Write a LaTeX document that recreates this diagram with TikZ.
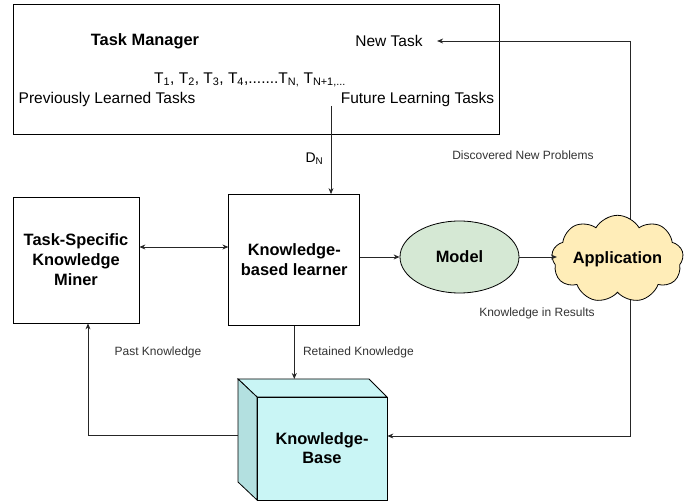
\documentclass[tikz,border=0pt]{standalone}
\usepackage{fontspec}
\setmainfont{Liberation Sans}
\usetikzlibrary{calc}
\usetikzlibrary{positioning}
\usetikzlibrary{shapes.symbols}
\usetikzlibrary{shapes.geometric}
\usetikzlibrary{arrows.meta}

\definecolor{modelGreen}{HTML}{D5E8D4}
\definecolor{appYellow}{HTML}{FFEDB8}
\definecolor{kbFront}{HTML}{C9F5F5}
\definecolor{kbSide}{HTML}{B3E0E0}

\begin{document}
\begin{tikzpicture}[x=1pt, y=-1pt, >={Stealth[length=6pt, width=5pt]},
    line/.style={draw=black!85, line width=0.8pt},
    titleText/.style={font=\fontsize{16.4}{20}\selectfont\bfseries, align=center},
    bodyText/.style={font=\fontsize{15.5}{18}\selectfont},
    smallText/.style={font=\fontsize{12}{14}\selectfont, text=black!80},
    blockBox/.style={rectangle, draw=black, line width=0.8pt, inner sep=0pt}]
    \useasboundingbox (0,0) rectangle (694,502);

    % task manager
    \node [blockBox, minimum width=486pt, minimum height=130pt] (taskManager) at (256,69) {};
    \node [titleText] (tmTitle) at (145,41) {Task Manager};
    \node [bodyText] (newTask) at (389,41) {New Task};
    \node [bodyText] (taskSeq) at (250,80) {T\textsubscript{1}, T\textsubscript{2}, T\textsubscript{3}, T\textsubscript{4},.......T\textsubscript{N,} T\textsubscript{N+1,...}};
    \node [bodyText] (prevTasks) at (107,99) {Previously Learned Tasks};
    \node [bodyText] (futureTasks) at (417.5,99) {Future Learning Tasks};
    \coordinate (dnStart) at (331,106);

    % learners
    \node [blockBox, titleText, minimum width=126pt, minimum height=126pt] (miner) at (76,260) {Task-Specific\\Knowledge\\Miner};
    \node [blockBox, titleText, minimum width=131pt, minimum height=131pt, right=89pt of miner] (learner) {Knowledge-\\based learner};
    \node [ellipse, draw=black, line width=0.8pt, fill=modelGreen, titleText, minimum width=119pt, minimum height=72pt, inner sep=0pt] (model) at (459.5,257) {Model};

    % knowledge base (cube)
    \coordinate (kbBack) at (238,379);
    \fill [kbFront, line, draw=black] (kbBack) -- (369,379) -- (387,397) -- (257,397) -- cycle;
    \fill [kbSide, line, draw=black] (kbBack) -- (257,397) -- (257,500) -- (238,482) -- cycle;
    \node [blockBox, fill=kbFront, titleText, font=\fontsize{16.4}{19}\selectfont\bfseries, minimum width=130pt, minimum height=103pt] (kbase) at (322,448.5) {Knowledge-\\Base};
    \coordinate (kbPast) at (238,435);

    % feedback line (behind the cloud)
    \coordinate (fbTop) at (630,41);
    \coordinate (fbBottom) at (630,436);
    \draw [line, ->] (fbTop) -- ([xshift=11pt]newTask.east);
    \draw [line, ->] (fbTop) -- (fbBottom) -- (kbase.east |- fbBottom);
    \node [cloud, cloud puffs=9, cloud puff arc=120, aspect=1.9, draw=black, line width=0.8pt, fill=appYellow, titleText, minimum width=126pt, minimum height=68pt, inner sep=0pt] (app) at (617.5,259) {Application};

    % connectors
    \draw [line, ->] (dnStart) -- (dnStart |- learner.north) node[pos=0.6, left=4pt, bodyText, font=\fontsize{14}{16}\selectfont] {D\textsubscript{N}};
    \draw [line, <->] ([yshift=13pt]miner.east) -- ([yshift=13pt]miner.east -| learner.west);
    \draw [line, ->] (learner.east |- model.west) -- (model.west);
    \draw [line, ->] (model.east) -- ([xshift=5pt]model.east -| app.west);
    \draw [line, ->] (learner.south) -- (learner.south |- kbBack) node[midway, right=5pt, smallText] {Retained Knowledge};
    \draw [line, ->] (kbPast) -| ([xshift=12pt]miner.south);

    % labels
    \node [smallText] (pastLabel) at (158,352) {Past Knowledge};
    \node [smallText] (discoveredLabel) at (523,155) {Discovered New Problems};
    \node [smallText] (resultsLabel) at (537,313) {Knowledge in Results};
\end{tikzpicture}
\end{document}
